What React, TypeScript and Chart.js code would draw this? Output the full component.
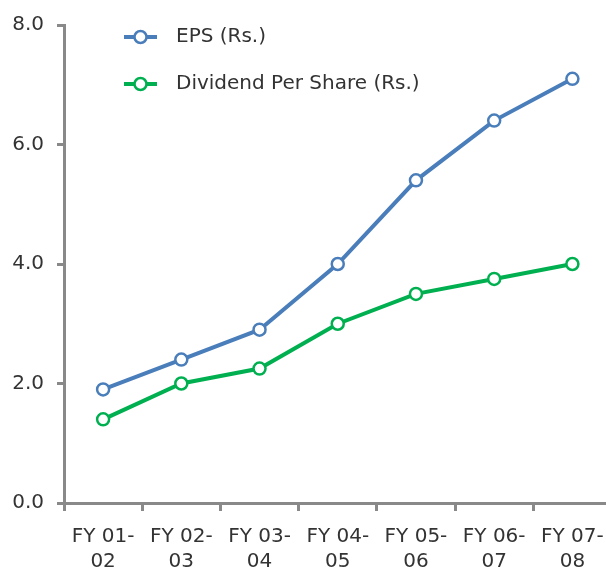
import React, { useEffect, useRef } from "react";
import { Chart, registerables } from "chart.js";

Chart.register(...registerables);

const categories: string[][] = [
  ["FY 01-", "02"],
  ["FY 02-", "03"],
  ["FY 03-", "04"],
  ["FY 04-", "05"],
  ["FY 05-", "06"],
  ["FY 06-", "07"],
  ["FY 07-", "08"],
];
const epsValues = [1.9, 2.4, 2.9, 4.0, 5.4, 6.4, 7.1];
const dpsValues = [1.4, 2.0, 2.25, 3.0, 3.5, 3.75, 4.0];
const seriesNames = ["EPS (Rs.)", "Dividend Per Share (Rs.)"];

const BLUE = "#4A7EBB";
const GREEN = "#00B050";
const AXIS = "#898989";
const TEXT = "#333333";
const FONT = "'DejaVu Sans', sans-serif";

const legendPlugin = {
  id: "insideLegend",
  afterDraw(chart: any) {
    const { ctx, chartArea } = chart;
    const items = [
      { label: seriesNames[0], color: BLUE, y: chartArea.top + 12 },
      { label: seriesNames[1], color: GREEN, y: chartArea.top + 59 },
    ];
    ctx.save();
    items.forEach((it) => {
      const x0 = chartArea.left + 60;
      ctx.strokeStyle = it.color;
      ctx.lineWidth = 4;
      ctx.beginPath();
      ctx.moveTo(x0, it.y);
      ctx.lineTo(x0 + 33, it.y);
      ctx.stroke();
      ctx.beginPath();
      ctx.arc(x0 + 16.5, it.y, 6, 0, Math.PI * 2);
      ctx.fillStyle = "#ffffff";
      ctx.fill();
      ctx.lineWidth = 2.5;
      ctx.stroke();
      ctx.fillStyle = TEXT;
      ctx.font = `20px ${FONT}`;
      ctx.textAlign = "left";
      ctx.textBaseline = "middle";
      ctx.fillText(it.label, x0 + 52, it.y);
    });
    ctx.restore();
  },
};

export default function App() {
  const ref = useRef<HTMLCanvasElement>(null);
  useEffect(() => {
    if (!ref.current) return;
    const chart = new Chart(ref.current, {
      type: "line",
      data: {
        labels: categories,
        datasets: [
          {
            label: seriesNames[0],
            data: epsValues,
            borderColor: BLUE,
            backgroundColor: "#ffffff",
            borderWidth: 4,
            pointRadius: 6,
            pointBorderWidth: 2.5,
            pointBackgroundColor: "#ffffff",
            pointBorderColor: BLUE,
            tension: 0,
          },
          {
            label: seriesNames[1],
            data: dpsValues,
            borderColor: GREEN,
            backgroundColor: "#ffffff",
            borderWidth: 4,
            pointRadius: 6,
            pointBorderWidth: 2.5,
            pointBackgroundColor: "#ffffff",
            pointBorderColor: GREEN,
            tension: 0,
          },
        ],
      },
      options: {
        responsive: false,
        animation: false,
        layout: { padding: { top: 23, right: 5, left: 0, bottom: 0 } },
        plugins: { legend: { display: false }, tooltip: { enabled: false } },
        scales: {
          x: {
            type: "category",
            offset: true,
            afterFit: (scale: any) => {
              scale.height = 69;
            },
            grid: {
              offset: true,
              drawOnChartArea: false,
              drawTicks: true,
              tickLength: 8,
              tickWidth: 3,
              color: AXIS,
            },
            border: { color: AXIS, width: 3 },
            ticks: {
              color: TEXT,
              font: { family: FONT, size: 20, lineHeight: 1.25 },
              padding: 13,
              maxRotation: 0,
              autoSkip: false,
            },
          },
          y: {
            min: 0,
            max: 8,
            afterFit: (scale: any) => {
              scale.width = 64;
            },
            grid: {
              drawOnChartArea: false,
              drawTicks: true,
              tickLength: 7,
              tickWidth: 3,
              color: AXIS,
            },
            border: { color: AXIS, width: 3 },
            ticks: {
              stepSize: 2,
              color: TEXT,
              font: { family: FONT, size: 20 },
              padding: 13,
              callback: (v: any) => Number(v).toFixed(1),
            },
          },
        },
      },
      plugins: [legendPlugin],
    });
    return () => chart.destroy();
  }, []);
  return (
    <div
      style={{
        position: "fixed",
        left: 0,
        top: 0,
        width: 606,
        height: 572,
        overflow: "hidden",
        background: "#ffffff",
      }}
    >
      <canvas ref={ref} width={620} height={572} style={{ display: "block" }} />
    </div>
  );
}
